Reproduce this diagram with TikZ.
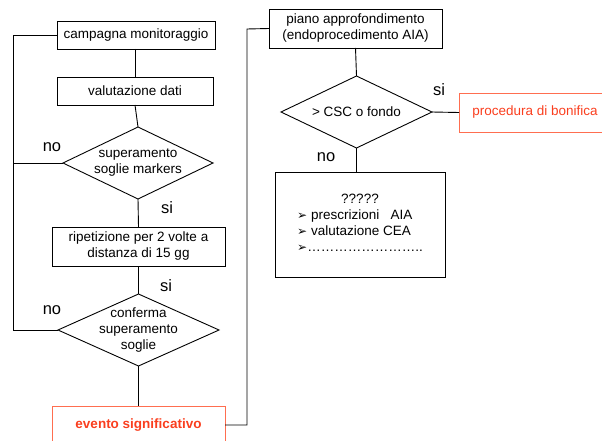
\documentclass[tikz,border=0pt]{standalone}
\usepackage{fontspec}
\setmainfont{Liberation Sans}
\newfontfamily\dejavu{DejaVu Sans}
\usetikzlibrary{shapes.geometric}
\definecolor{redtxt}{RGB}{250,62,30}
\definecolor{redline}{RGB}{255,110,80}
\newcommand{\arrbul}{{\dejavu\fontsize{12}{12}\selectfont ➢}}
\begin{document}
\begin{tikzpicture}[x=1pt,y=-1pt,
  font=\fontsize{13.5}{16}\selectfont, line width=0.9pt,
  box/.style={draw, rectangle, inner sep=0pt, outer sep=0pt, align=center},
  dia/.style={draw, diamond, inner sep=0pt, outer sep=0pt},
  dtext/.style={inner sep=0pt, align=center},
  lbl/.style={font=\fontsize{16.5}{18}\selectfont, inner sep=0pt},
  redbox/.style={box, draw=redline, text=redtxt}]
\clip (0,0) rectangle (602,441);
% left column
\node[box, minimum width=158pt, minimum height=28pt] (a) at (136,35) {campagna monitoraggio};
\node[box, minimum width=156pt, minimum height=28pt] (b) at (135,91) {valutazione dati};
\node[dia, minimum width=150pt, minimum height=72pt] (d1) at (138,163) {};
\node[dtext] (d1t) at (d1.center) {superamento\\soglie markers};
\node[box, minimum width=173pt, minimum height=39pt] (c) at (138.5,246.5) {ripetizione per 2 volte a\\distanza di 15 gg};
\node[dia, minimum width=161pt, minimum height=72pt] (d2) at (138.5,330) {};
\node[dtext] (d2t) at (d2.center) {conferma\\superamento\\soglie};
\node[redbox, minimum width=173pt, minimum height=38pt, font=\fontsize{13.5}{16}\selectfont\bfseries] (e) at (138.5,425) {evento significativo};
% right column
\node[box, minimum width=173pt, minimum height=39pt] (p) at (355.5,28.5) {piano approfondimento\\(endoprocedimento AIA)};
\node[dia, minimum width=151pt, minimum height=72pt] (d3) at (356.5,112) {};
\node[dtext] (d3t) at (d3.center) {> CSC o fondo};
\node[redbox, minimum width=152pt, minimum height=39pt] (f) at (535,112.5) {procedura di bonifica};
\node[box, minimum width=170pt, minimum height=105pt] (g) at (360,224.5) {};
\node[dtext] (gt) at (g.center) {\begin{tabular}{@{}l@{}}\multicolumn{1}{@{}c@{}}{?????}\\
\arrbul\ prescrizioni\ \ \ AIA\\
\arrbul\ valutazione CEA\\
\arrbul……………………..\end{tabular}};
% junction coordinates
\coordinate (lj) at (13,35);
\coordinate (rj) at (247,29);
% connectors
\draw (b.north |- a.south) -- (b.north);
\draw (b.south) -- (d1.north);
\draw (d1.south) -- (c.north);
\draw (c.south) -- (d2.north);
\draw (d2.south) -- (e.north);
\draw (a.west) -- (lj) |- (d2.west);
\draw (d1.west) -- (d1.west -| lj);
\draw (e.east) -| (rj) -- (p.west);
\draw (p.south) -- (d3.north);
\draw (d3.east) -- (f.west);
\draw (d3.south) -- (d3.south |- g.north);
% labels
\node[lbl] (l1) at (52,147) {no};
\node[lbl] (l2) at (167,208) {si};
\node[lbl] (l3) at (166,286) {si};
\node[lbl] (l4) at (52,310) {no};
\node[lbl] (l5) at (439,90) {si};
\node[lbl] (l6) at (326,157) {no};
\end{tikzpicture}
\end{document}
